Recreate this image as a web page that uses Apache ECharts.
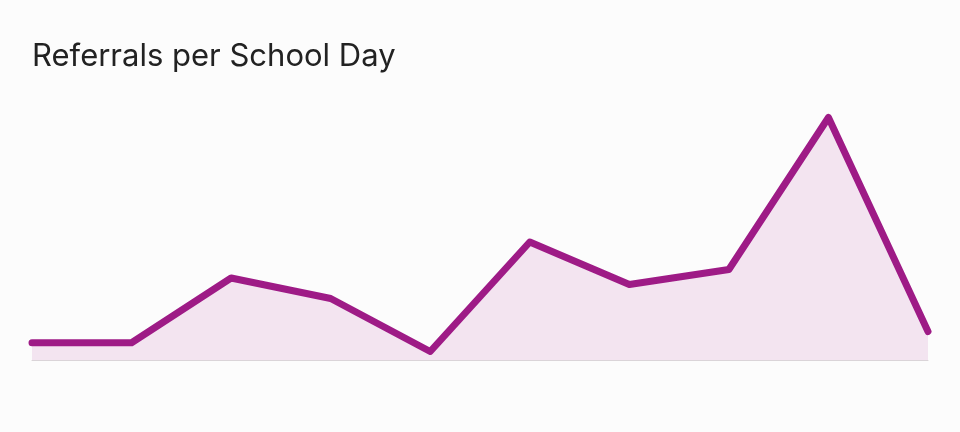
<!DOCTYPE html>
<html>
<head>
<meta charset="utf-8">
<script src="https://cdn.jsdelivr.net/npm/echarts@6/dist/echarts.min.js"></script>
<style>
html,body{margin:0;padding:0;background:#fcfcfc;}
#c{width:960px;height:432px;}
</style>
</head>
<body>
<div id="c"></div>
<script>
const titleText = 'Referrals per School Day';
const days = ['Day 1','Day 2','Day 3','Day 4','Day 5','Day 6','Day 7','Day 8','Day 9','Day 10'];
const referrals = [1.72, 1.72, 8.2, 6.15, 0.85, 11.8, 7.55, 9.05, 24.25, 2.85];

const chart = echarts.init(document.getElementById('c'), null, {renderer:'canvas'});
chart.setOption({
  backgroundColor: '#fcfcfc',
  animation: false,
  title: {
    text: titleText,
    left: 32, top: 41,
    padding: 0,
    textStyle: {fontFamily: 'Inter', fontSize: 31, fontWeight: 'normal', color: '#222222'}
  },
  grid: {left: 32, right: 32, top: 110, height: 250},
  xAxis: {
    type: 'category', data: days, boundaryGap: false,
    axisLine: {show: true, lineStyle: {color: '#dad4d8', width: 1}},
    axisTick: {show: false}, axisLabel: {show: false}, splitLine: {show: false}
  },
  yAxis: {
    type: 'value', min: 0, max: 25,
    axisLine: {show: false}, axisTick: {show: false}, axisLabel: {show: false}, splitLine: {show: false}
  },
  series: [{
    type: 'line', data: referrals, showSymbol: false, symbol: 'none',
    lineStyle: {color: '#9e1b86', width: 7, cap: 'round', join: 'round'},
    areaStyle: {color: '#f3e4f0', opacity: 1}
  }]
});
</script>
</body>
</html>
